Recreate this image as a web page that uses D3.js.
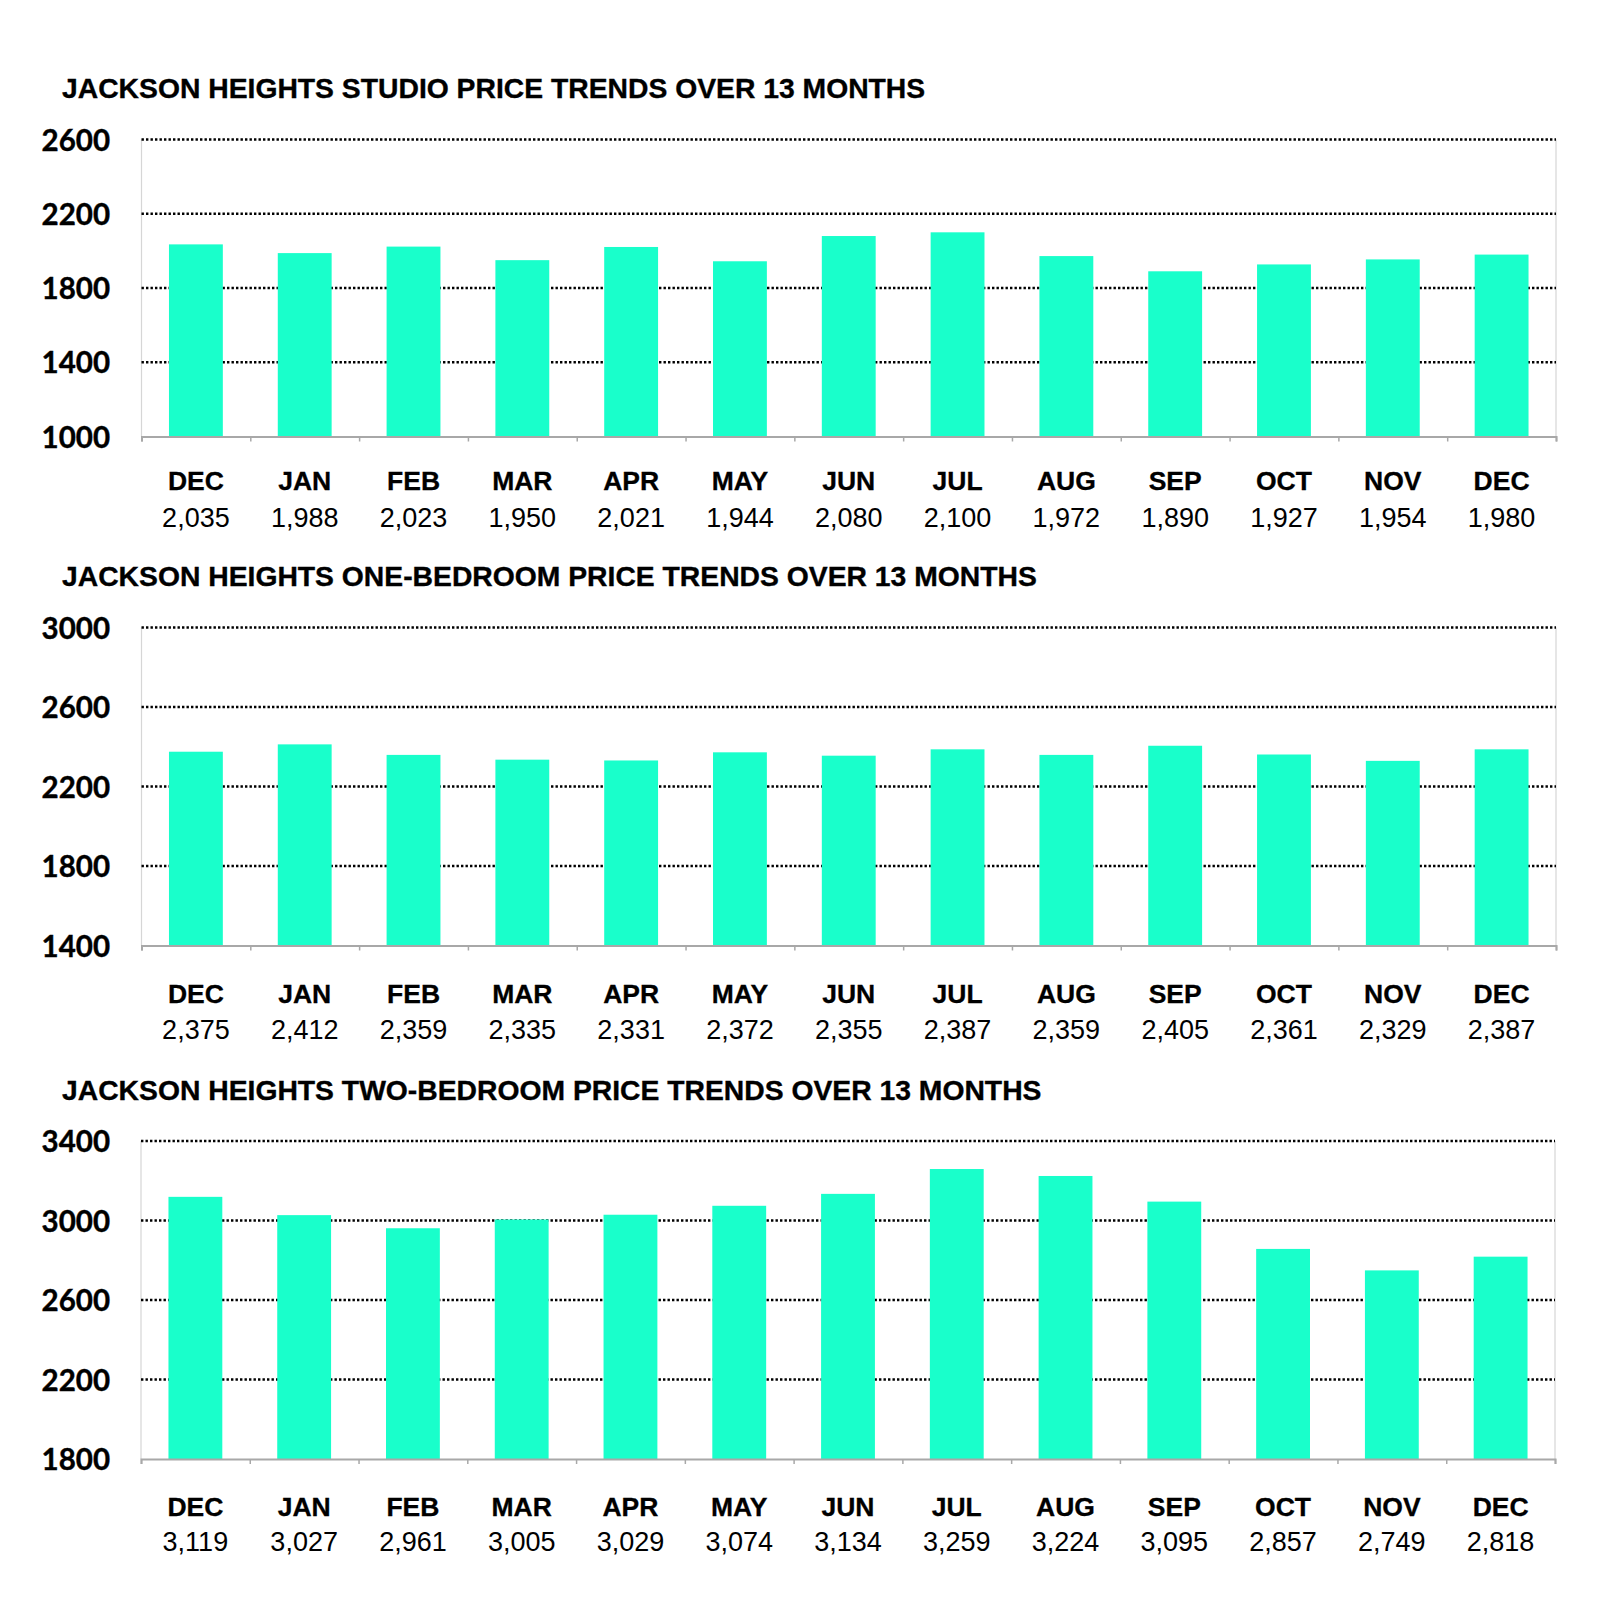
<!DOCTYPE html>
<html>
<head>
<meta charset="utf-8">
<script src="https://cdn.jsdelivr.net/npm/d3@7"></script>
<style>
  html, body { margin: 0; padding: 0; background: #ffffff; }
  svg { display: block; }
</style>
</head>
<body>
<svg id="chart" width="1600" height="1620"></svg>
<script>
// ---- Data ----
const months = ["DEC","JAN","FEB","MAR","APR","MAY","JUN","JUL","AUG","SEP","OCT","NOV","DEC"];
const studioValues = [2035,1988,2023,1950,2021,1944,2080,2100,1972,1890,1927,1954,1980];
const oneBedValues = [2375,2412,2359,2335,2331,2372,2355,2387,2359,2405,2361,2329,2387];
const twoBedValues = [3119,3027,2961,3005,3029,3074,3134,3259,3224,3095,2857,2749,2818];
const titles = [
  "JACKSON HEIGHTS STUDIO PRICE TRENDS OVER 13 MONTHS",
  "JACKSON HEIGHTS ONE-BEDROOM PRICE TRENDS OVER 13 MONTHS",
  "JACKSON HEIGHTS TWO-BEDROOM PRICE TRENDS OVER 13 MONTHS"
];
const yTicks1 = [1000,1400,1800,2200,2600];
const yTicks2 = [1400,1800,2200,2600,3000];
const yTicks3 = [1800,2200,2600,3000,3400];

// ---- Layout ----
const panels = [
  { title: titles[0], values: studioValues, ticks: yTicks1, titleY: 98,  top: 139.5, bottom: 436.5, left: 141.5, right: 1556, labY: 490,  valY: 527 },
  { title: titles[1], values: oneBedValues, ticks: yTicks2, titleY: 586, top: 627.5, bottom: 945.5, left: 141.5, right: 1556, labY: 1003, valY: 1038.5 },
  { title: titles[2], values: twoBedValues, ticks: yTicks3, titleY: 1100, top: 1141, bottom: 1459, left: 141, right: 1555, labY: 1516, valY: 1551 }
];

const barColor = "#19ffcb";
const svg = d3.select("#chart");

panels.forEach(p => {
  const g = svg.append("g");
  const y = d3.scaleLinear().domain([p.ticks[0], p.ticks[p.ticks.length - 1]]).range([p.bottom, p.top]);
  const idx = d3.range(months.length);
  const x = d3.scaleBand().domain(idx).range([p.left, p.right]).paddingInner(0.505).paddingOuter(0.2525);

  // title
  g.append("text")
    .attr("x", 62).attr("y", p.titleY)
    .attr("font-family", "'Liberation Sans', Arial, sans-serif")
    .attr("font-weight", "bold").attr("font-size", 28.3)
    .attr("stroke", "#000").attr("stroke-width", 0.35)
    .attr("fill", "#000").text(p.title);

  // left & right frame lines
  g.append("line").attr("x1", p.left).attr("x2", p.left).attr("y1", p.top).attr("y2", p.bottom)
    .attr("stroke", "#d6d6d6").attr("stroke-width", 1.2);
  g.append("line").attr("x1", p.right).attr("x2", p.right).attr("y1", p.top).attr("y2", p.bottom)
    .attr("stroke", "#d6d6d6").attr("stroke-width", 1.2);

  // gridlines (dotted), except baseline
  g.append("g").selectAll("line").data(p.ticks.slice(1)).join("line")
    .attr("x1", p.left).attr("x2", p.right)
    .attr("y1", d => y(d)).attr("y2", d => y(d))
    .attr("stroke", "#000").attr("stroke-width", 2.6)
    .attr("stroke-dasharray", "2.4,2.1");

  // bars
  g.append("g").selectAll("rect").data(p.values).join("rect")
    .attr("x", (d, i) => x(i)).attr("width", x.bandwidth())
    .attr("y", d => y(d)).attr("height", d => p.bottom - y(d))
    .attr("fill", barColor);

  // y axis labels
  const yAxis = d3.axisLeft(y).tickValues(p.ticks).tickSize(0).tickPadding(0).tickFormat(d3.format("d"));
  const ya = g.append("g").attr("transform", `translate(${110},0)`).call(yAxis);
  ya.select(".domain").remove();
  ya.selectAll("text")
    .attr("font-family", "Lato, 'Open Sans', sans-serif")
    .attr("font-weight", "bold").attr("font-size", 29.5).attr("fill", "#000")
    .attr("stroke", "#000").attr("stroke-width", 0.4)
    .attr("dy", "0.36em");

  // x axis baseline with ticks at band boundaries
  const bx = d3.scaleLinear().domain([0, months.length]).range([p.left, p.right]);
  const xAxis = d3.axisBottom(bx).tickValues(d3.range(months.length + 1)).tickSize(5).tickFormat("");
  const xa = g.append("g").attr("transform", `translate(0,${p.bottom})`).call(xAxis);
  xa.select(".domain").attr("stroke", "#a8a8a8").attr("stroke-width", 2);
  xa.selectAll(".tick line").attr("stroke", "#a8a8a8").attr("stroke-width", 1.5);

  // month labels
  g.append("g").selectAll("text").data(months).join("text")
    .attr("x", (d, i) => x(i) + x.bandwidth() / 2).attr("y", p.labY)
    .attr("text-anchor", "middle")
    .attr("font-family", "'Liberation Sans', Arial, sans-serif")
    .attr("font-weight", "bold").attr("font-size", 26.5).attr("fill", "#000")
    .attr("stroke", "#000").attr("stroke-width", 0.3)
    .text(d => d);

  // value labels
  g.append("g").selectAll("text").data(p.values).join("text")
    .attr("x", (d, i) => x(i) + x.bandwidth() / 2).attr("y", p.valY)
    .attr("text-anchor", "middle")
    .attr("font-family", "'Liberation Sans', Arial, sans-serif")
    .attr("font-size", 27).attr("fill", "#000")
    .text(d => d3.format(",")(d));
});
</script>
</body>
</html>
